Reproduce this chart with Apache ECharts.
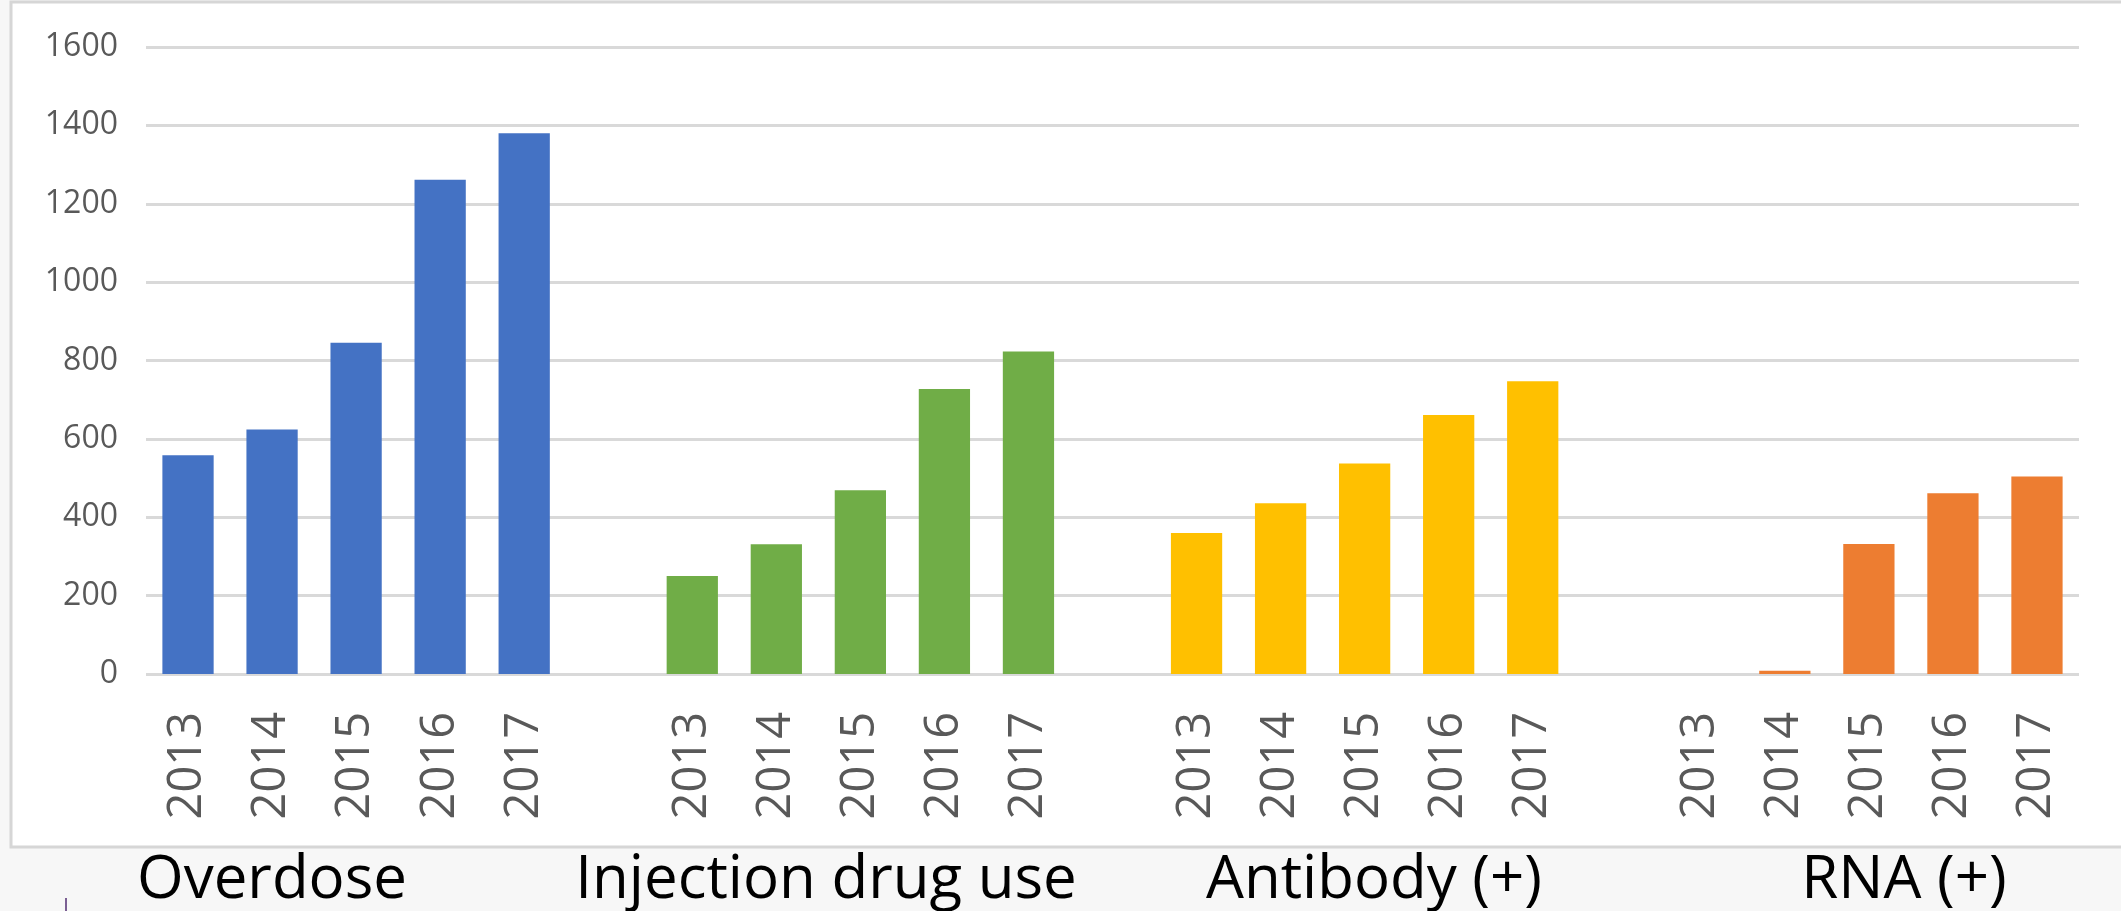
<!DOCTYPE html>
<html>
<head>
<meta charset="utf-8">
<style>
  html, body { margin: 0; padding: 0; background: #f7f7f7; }
  #chart { width: 2121px; height: 911px; }
</style>
<script src="https://cdn.jsdelivr.net/npm/echarts@6/dist/echarts.min.js"></script>
</head>
<body>
<div id="chart"></div>
<script>
// ---- Data ----
const years = ['2013', '2014', '2015', '2016', '2017'];
const groupNames = ['Overdose', 'Injection drug use', 'Antibody (+)', 'RNA (+)'];
const overdose  = [558, 624, 845, 1261, 1380];
const injection = [250, 331, 469, 727, 823];
const antibody  = [360, 436, 537, 661, 747];
const rna       = [0, 8, 332, 461, 504];
const yTicks    = [0, 200, 400, 600, 800, 1000, 1200, 1400, 1600];
const colors    = ['#4472C4', '#70AD47', '#FFC000', '#ED7D31'];

// ---- Build category axis (groups separated by one empty slot) ----
const groupValues = [overdose, injection, antibody, rna];
const categories = [];
groupValues.forEach((g, gi) => {
  years.forEach(y => categories.push(y));
  if (gi < groupValues.length - 1) categories.push('');
});
const series = groupValues.map((vals, gi) => {
  const data = categories.map(() => '-');
  const start = gi * (years.length + 1);
  vals.forEach((v, i) => { data[start + i] = v; });
  return {
    name: groupNames[gi],
    type: 'bar',
    stack: 'all',
    barWidth: '61%',
    itemStyle: { color: colors[gi] },
    data: data
  };
});

const chart = echarts.init(document.getElementById('chart'), null, { renderer: 'canvas' });
const labelCenters = [272, 826, 1374, 1904];

chart.setOption({
  backgroundColor: '#f7f7f7',
  animation: false,
  graphic: [
    {
      type: 'rect', z: -10, silent: true,
      shape: { x: 11, y: 2, width: 2200, height: 845 },
      style: { fill: '#ffffff', stroke: '#d6d6d6', lineWidth: 3 }
    },
    {
      type: 'line', silent: true,
      shape: { x1: 66, y1: 898, x2: 66, y2: 911 },
      style: { stroke: '#7b5f93', lineWidth: 2 }
    }
  ].concat(groupNames.map((n, i) => ({
    type: 'text', silent: true,
    x: labelCenters[i], y: 881,
    style: {
      text: n, fill: '#000000',
      font: '60px "Open Sans"',
      textAlign: 'center', textVerticalAlign: 'middle'
    }
  }))),
  grid: { left: 146, right: 42, top: 47, bottom: 237, containLabel: false },
  xAxis: {
    type: 'category',
    data: categories,
    axisLine: { show: false },
    axisTick: { show: false },
    axisLabel: {
      interval: 0, rotate: 90, margin: 38,
      color: '#595959', fontFamily: 'Open Sans', fontSize: 47
    }
  },
  yAxis: {
    type: 'value',
    min: yTicks[0], max: yTicks[yTicks.length - 1], interval: 200,
    axisLine: { show: false },
    axisTick: { show: false },
    splitLine: { lineStyle: { color: '#d9d9d9', width: 3 } },
    axisLabel: {
      margin: 28, color: '#595959', fontFamily: 'Open Sans', fontSize: 32,
      formatter: v => String(v)
    }
  },
  series: series
});
</script>
</body>
</html>
